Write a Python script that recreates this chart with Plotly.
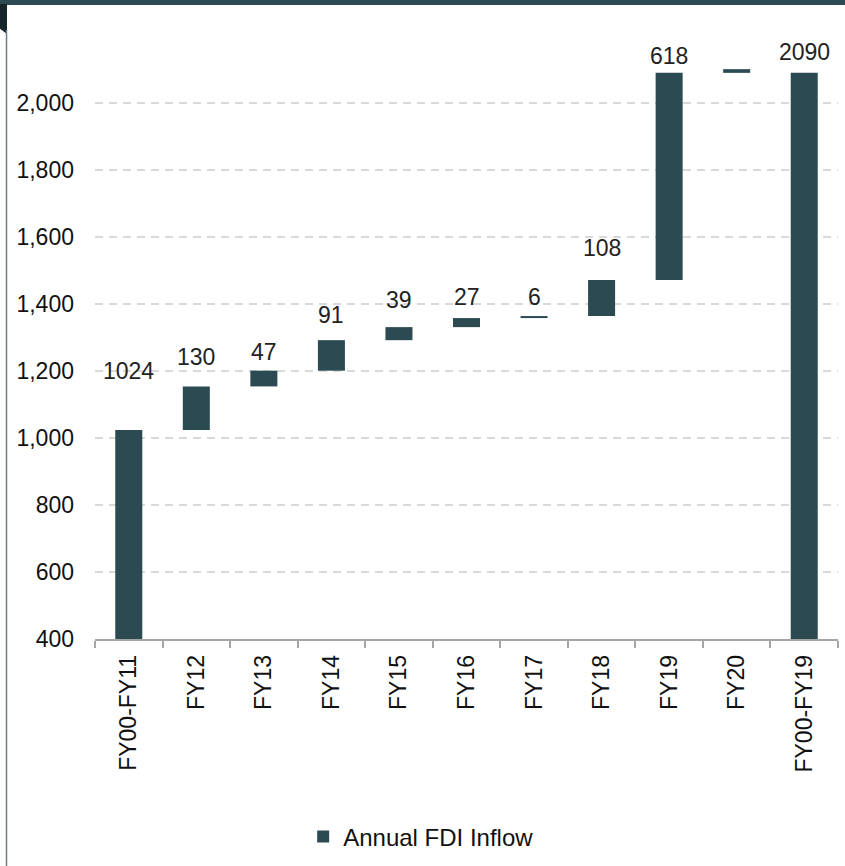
import plotly.graph_objects as go

categories = ["FY00-FY11", "FY12", "FY13", "FY14", "FY15", "FY16", "FY17", "FY18", "FY19", "FY20", "FY00-FY19"]
values = [1024, 130, 47, 91, 39, 27, 6, 108, 618, 11, 2090]
bases = [0, 1024, 1154, 1201, 1292, 1331, 1358, 1364, 1472, 2090, 0]
labels = ["1024", "130", "47", "91", "39", "27", "6", "108", "618", "", "2090"]
label_shift = [59, 29, 19, 25, 27, 21, 19, 32, 17, 0, 21]

BAR = "#2b4a52"
FONT = "Liberation Sans, Arial"

fig = go.Figure()
fig.add_trace(go.Bar(
    x=categories, y=values, base=bases,
    name="Annual FDI Inflow",
    marker=dict(color=BAR, line=dict(width=0)),
    width=0.4, showlegend=True, hoverinfo="skip",
))

for c, b, v, t, s in zip(categories, bases, values, labels, label_shift):
    if t:
        fig.add_annotation(x=c, y=b + v, text=t, showarrow=False, yanchor="middle",
                           yshift=s, font=dict(size=23, color="#222222", family=FONT))

# header strip, corner tab and left frame line
fig.add_shape(type="rect", xref="paper", yref="paper", xsizemode="pixel", ysizemode="pixel",
              xanchor=0, yanchor=1, x0=-100, x1=760, y0=31, y1=45,
              fillcolor=BAR, line=dict(width=0), layer="above")
fig.add_shape(type="path", xref="paper", yref="paper", xsizemode="pixel", ysizemode="pixel",
              xanchor=0, yanchor=1, path="M -96,32 L -88,32 L -88,2 L -96,8 Z",
              fillcolor="#15252a", line=dict(width=0), layer="above")
fig.add_shape(type="line", xref="paper", yref="paper", xsizemode="pixel", ysizemode="pixel",
              xanchor=0, yanchor=1, x0=-88.5, x1=-88.5, y0=6, y1=-840,
              line=dict(color="#6c7e86", width=1.5), layer="above")

fig.update_layout(
    width=845, height=866,
    margin=dict(l=95, r=7, t=36, b=225),
    plot_bgcolor="white", paper_bgcolor="white",
    font=dict(family=FONT, size=23, color="#222222"),
    bargap=0.6,
    showlegend=True,
    legend=dict(orientation="h", x=0.439, xanchor="center", y=-0.328, yanchor="middle",
                font=dict(size=24, color="#111111"), itemwidth=30),
    xaxis=dict(tickangle=-90, showline=True, linecolor="#a6a6a6", linewidth=1.5,
               ticks="outside", ticklen=7, tickcolor="#a6a6a6", tickwidth=1.5, tickson="boundaries",
               ticklabelstandoff=5,
               showgrid=False, tickfont=dict(size=23, color="#111111")),
    yaxis=dict(range=[400, 2200], tickvals=[400, 600, 800, 1000, 1200, 1400, 1600, 1800, 2000],
               tickformat=",", showgrid=True, gridcolor="#d9d9d9", griddash="8px,6px", gridwidth=1.5,
               showline=False, zeroline=False, ticks="", ticklabelstandoff=20,
               tickfont=dict(size=23, color="#111111")),
)

fig.write_html("out.html", config={"displayModeBar": False},
               post_script="document.body.style.margin='0';")
